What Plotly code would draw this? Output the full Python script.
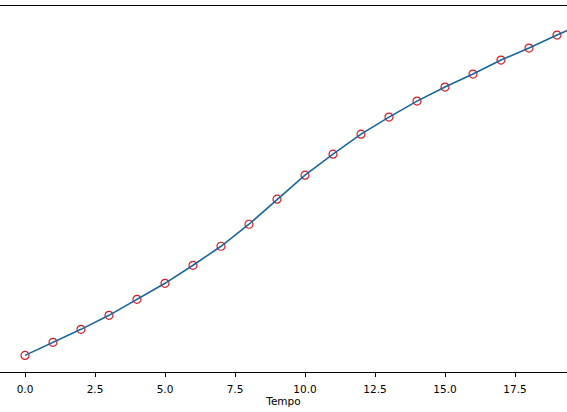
import plotly.graph_objects as go

tempo = list(range(0, 21))
valores = [0, 13, 26, 40, 56, 72, 90, 109, 131, 156, 180, 201, 221, 238, 254,
           268, 281, 295, 307, 320, 332]
tick_vals = [0, 2.5, 5, 7.5, 10, 12.5, 15, 17.5]
tick_text = ["0.0", "2.5", "5.0", "7.5", "10.0", "12.5", "15.0", "17.5"]

fig = go.Figure()
fig.add_trace(go.Scatter(
    x=tempo, y=valores, mode="markers",
    marker=dict(symbol="circle-open", size=8, color="#d91a26", line=dict(width=1.2)),
    showlegend=False, hoverinfo="skip"))
fig.add_trace(go.Scatter(
    x=tempo, y=valores, mode="lines",
    line=dict(color="#17679e", width=1.6),
    showlegend=False))

fig.update_layout(
    width=567, height=412,
    margin=dict(l=0, r=0, t=6, b=40, pad=0, autoexpand=False),
    paper_bgcolor="white", plot_bgcolor="white",
    font=dict(family="DejaVu Sans", size=10.5, color="black"),
    xaxis=dict(
        range=[-25/28, 542/28], automargin=False,
        tickvals=tick_vals, ticktext=tick_text,
        ticks="outside", ticklen=4, tickwidth=1, tickcolor="black",
        ticklabelstandoff=3,
        showgrid=False, zeroline=False,
        showline=True, linecolor="black", linewidth=1, mirror=True,
        title=dict(text="Tempo", font=dict(size=10.5), standoff=2),
    ),
    yaxis=dict(
        range=[-16.6, 349], automargin=False,
        showticklabels=False, ticks="",
        showgrid=False, zeroline=False, showline=False,
    ),
)

fig.write_html(
    "out.html",
    config={"displayModeBar": False},
    post_script="document.body.style.margin='0';document.body.style.overflow='hidden';",
)
